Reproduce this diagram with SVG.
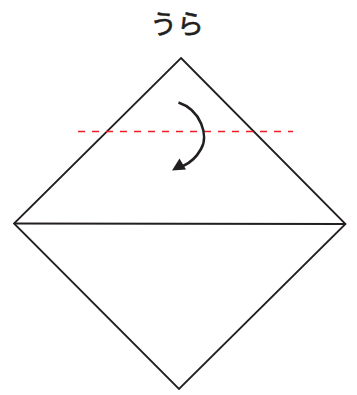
<svg xmlns="http://www.w3.org/2000/svg" width="357" height="395" viewBox="0 0 357 395">
<defs>
<style>
.line{fill:none;stroke:#231f20;stroke-width:1.8;stroke-linejoin:miter}
.fold{fill:none;stroke:#ee1c25;stroke-width:1.5;stroke-dasharray:7 7}
.arrow{fill:none;stroke:#231f20;stroke-width:2.6}
.label{font-family:"Noto Sans CJK JP","Noto Sans",sans-serif;font-size:27px;font-weight:normal;fill:#231f20;stroke:#231f20;stroke-width:0.6}
</style>
</defs>
<text class="label" x="177" y="34" text-anchor="middle">うら</text>
<g id="paper">
<path class="line" d="M181,58 L345.5,224 L179,389 L14,223.5 Z"/>
<line class="line" x1="14" y1="223.5" x2="345.5" y2="224"/>
</g>
<g id="connectors">
<line class="fold" x1="78" y1="131.5" x2="293" y2="131.5"/>
<path d="M178.5,102.5 C201,110 209,136 201,149 C196,158 190,163 183,166" class="arrow"/>
<path d="M172,170.5 L179.5,158.5 L186,169.5 Z" fill="#231f20"/>
</g>
</svg>
